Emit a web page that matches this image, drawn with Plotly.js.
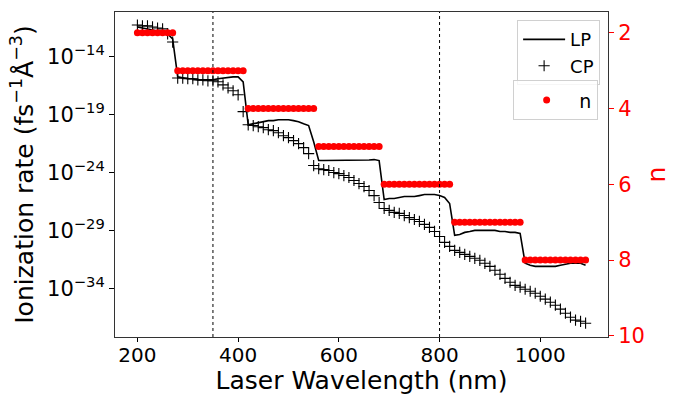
<!DOCTYPE html>
<html>
<head>
<meta charset="utf-8">
<script src="https://cdn.plot.ly/plotly-3.0.1.min.js"></script>
<style>html,body{margin:0;padding:0;background:#fff;}#chart{width:690px;height:395px;}</style>
</head>
<body>
<div id="chart"></div>
<script>
const wavelength = [200,210,220,230,240,250,260,270,280,290,300,310,320,330,340,350,360,370,380,390,
400,410,420,430,440,450,460,470,480,490,500,510,520,530,540,550,560,570,580,590,
600,610,620,630,640,650,660,670,680,690,700,710,720,730,740,750,760,770,780,790,
800,810,820,830,840,850,860,870,880,890,900,910,920,930,940,950,960,970,980,990,
1000,1010,1020,1030,1040,1050,1060,1070,1080,1090];

const rateLP = [3.8e-12,3.1e-12,2.6e-12,2.1e-12,1.7e-12,1.4e-12,9.5e-13,3.5e-13,1.9e-16,1.5e-16,
1.3e-16,1.3e-16,1.05e-16,1.05e-16,1.05e-16,1.05e-16,1.3e-16,1.5e-16,1.5e-16,1.9e-16,
1.9e-16,7.1e-17,1.4e-20,1.7e-20,2.1e-20,2.6e-20,3.2e-20,3.2e-20,3.8e-20,3.8e-20,
3.8e-20,3.2e-20,2.6e-20,1.7e-20,1.2e-20,4.9e-22,1.15e-23,1.15e-23,1.15e-23,1.15e-23,
1.15e-23,1.15e-23,1.15e-23,1.2e-23,1.2e-23,1.2e-23,1.3e-23,1.4e-23,1.15e-23,5.0e-27,
6.2e-27,6.2e-27,7.6e-27,9.1e-27,9.1e-27,9.1e-27,1.1e-26,1.35e-26,1.35e-26,1.35e-26,
1.1e-26,7.6e-27,2.3e-27,4.1e-30,4.9e-30,7.4e-30,8.9e-30,1.1e-29,1.1e-29,1.1e-29,
1.1e-29,1.1e-29,8.9e-30,8.9e-30,7.4e-30,7.4e-30,6.0e-30,1.6e-32,1.07e-32,8.7e-33,
8.7e-33,8.7e-33,8.7e-33,8.7e-33,1.07e-32,1.3e-32,1.6e-32,1.6e-32,1.6e-32,1.07e-32];

const rateCP = [5.6e-12,4.7e-12,4.7e-12,3.8e-12,3.1e-12,2.6e-12,9.5e-13,1.9e-13,1.5e-16,1.5e-16,
1.3e-16,1.3e-16,1.05e-16,1.05e-16,8.7e-17,8.7e-17,7.1e-17,3.9e-17,2.1e-17,1.2e-17,
5.4e-18,1.9e-19,1.4e-20,1.2e-20,9.6e-21,7.9e-21,5.3e-21,4.4e-21,2.9e-21,1.6e-21,
1.1e-21,6.0e-22,3.3e-22,1.5e-22,4.6e-23,4.3e-24,2.3e-24,1.9e-24,1.6e-24,1.07e-24,
8.7e-25,5.9e-25,4.0e-25,2.2e-25,1.2e-25,6.6e-26,3.0e-26,1.1e-26,2.8e-27,8.5e-28,
5.8e-28,3.9e-28,3.2e-28,2.1e-28,1.4e-28,9.6e-29,6.5e-29,3.6e-29,2.0e-29,8.9e-30,
3.3e-30,1.02e-30,4.6e-31,2.1e-31,1.4e-31,9.5e-32,6.3e-32,4.3e-32,2.9e-32,1.6e-32,
8.7e-33,4.0e-33,1.8e-33,8.1e-34,3.7e-34,2.0e-34,1.4e-34,9.3e-35,6.2e-35,4.2e-35,
2.3e-35,1.3e-35,7.1e-36,3.9e-36,1.8e-36,7.9e-37,3.6e-37,2.0e-37,1.6e-37,1.1e-37];

const photonOrder = [2,2,2,2,2,2,2,2,
3,3,3,3,3,3,3,3,3,3,3,3,3,3,
4,4,4,4,4,4,4,4,4,4,4,4,4,4,
5,5,5,5,5,5,5,5,5,5,5,5,5,
6,6,6,6,6,6,6,6,6,6,6,6,6,6,
7,7,7,7,7,7,7,7,7,7,7,7,7,7,
8,8,8,8,8,8,8,8,8,8,8,8,8];

const markedWavelengths = [350, 800];
const xTicks = [200, 400, 600, 800, 1000];
const yTickVals = [1e-34, 1e-29, 1e-24, 1e-19, 1e-14];
const yTickText = ['10<sup>−34</sup>','10<sup>−29</sup>','10<sup>−24</sup>','10<sup>−19</sup>','10<sup>−14</sup>'];
const nTicks = [2, 4, 6, 8, 10];

const FONT = 'DejaVu Sans, sans-serif';

const traces = [
  {x: wavelength, y: rateLP, name: 'LP', type: 'scatter', mode: 'lines',
   line: {color: '#000', width: 1.6}, xaxis: 'x', yaxis: 'y', legend: 'legend'},
  {x: wavelength, y: rateCP, name: 'CP', type: 'scatter', mode: 'markers',
   marker: {symbol: 'cross-thin-open', size: 8, color: '#000', line: {color: '#000', width: 1.1}},
   xaxis: 'x', yaxis: 'y', legend: 'legend'},
  {x: wavelength, y: photonOrder, name: 'n', type: 'scatter', mode: 'markers',
   marker: {symbol: 'circle', size: 7, color: '#ff0000'},
   xaxis: 'x', yaxis: 'y2', legend: 'legend2'}
];

const shapes = markedWavelengths.map(w => ({
  type: 'line', xref: 'x', yref: 'paper', x0: w, x1: w, y0: 0, y1: 1,
  line: {color: '#000', width: 1, dash: 'dot'}
}));

const layout = {
  width: 690, height: 395,
  margin: {l: 115, r: 82, t: 12, b: 58},
  paper_bgcolor: '#fff', plot_bgcolor: '#fff',
  font: {family: FONT, color: '#000'},
  showlegend: true,
  xaxis: {
    range: [155.5, 1134.5], tickvals: xTicks, ticks: 'outside', ticklen: 4, tickwidth: 1,
    tickcolor: '#000', showline: true, linecolor: '#333', linewidth: 1, mirror: true,
    showgrid: false, zeroline: false, tickfont: {size: 20, family: FONT}, ticklabelstandoff: -4,
    title: {text: 'Laser Wavelength (nm)', font: {size: 25, family: FONT}, standoff: 3}
  },
  yaxis: {
    type: 'log', range: [-38.15, -10.13], tickvals: yTickVals, ticktext: yTickText,
    ticks: 'outside', ticklen: 5, tickwidth: 1, tickcolor: '#000',
    showline: true, linecolor: '#333', linewidth: 1, showgrid: false, zeroline: false,
    tickfont: {size: 21, family: FONT},
    title: {text: 'Ionization rate (fs<sup>−1</sup>Å<sup>−3</sup>)', font: {size: 25, family: FONT}, standoff: 6}
  },
  yaxis2: {
    overlaying: 'y', side: 'right', range: [10.03, 1.45], autorange: false,
    tickvals: nTicks, ticks: 'outside', ticklen: 5, tickwidth: 1, tickcolor: '#ff0000',
    showline: true, linecolor: '#333', linewidth: 1, showgrid: false, zeroline: false,
    tickfont: {size: 21, family: FONT, color: '#ff0000'},
    title: {text: 'n', font: {size: 25, family: FONT, color: '#ff0000'}, standoff: 3}
  },
  legend: {
    x: 0.984, xanchor: 'right', y: 0.975, yanchor: 'top',
    bgcolor: 'rgba(255,255,255,0.8)', bordercolor: '#d0d0d0', borderwidth: 1,
    font: {size: 18, family: FONT}, tracegroupgap: 0, itemwidth: 42
  },
  legend2: {
    x: 0.98, xanchor: 'right', y: 0.79, yanchor: 'top',
    bgcolor: 'rgba(255,255,255,0.8)', bordercolor: '#d0d0d0', borderwidth: 1,
    font: {size: 19, family: FONT}, itemwidth: 55
  },
  shapes: shapes
};

Plotly.newPlot('chart', traces, layout, {displayModeBar: false, staticPlot: true});
</script>
</body>
</html>
